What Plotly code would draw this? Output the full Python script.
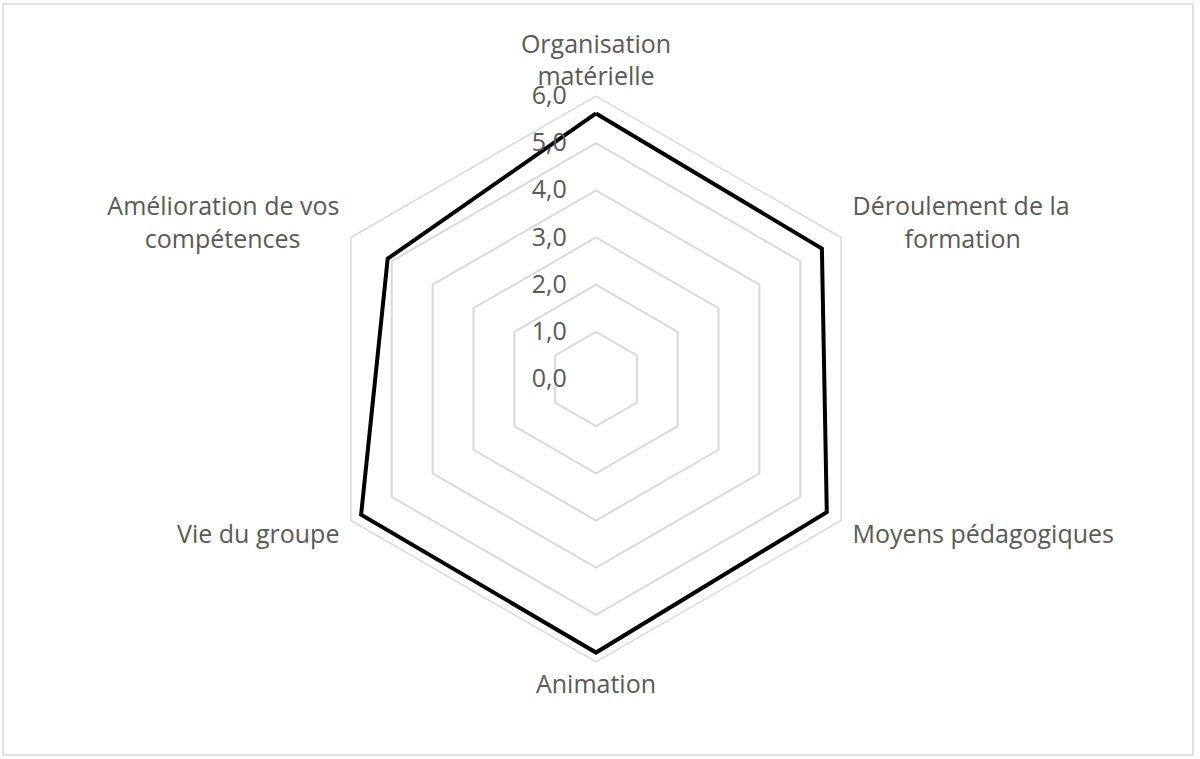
import plotly.graph_objects as go

# Radar chart data
NB = "\u00a0"
categories = [
    "Organisation<br>matérielle",
    NB + "Déroulement de la<br>" + NB * 9 + "formation",
    NB + "Moyens pédagogiques",
    "Animation",
    "Vie du groupe" + NB,
    "Amélioration de vos" + NB + "<br>compétences" + NB * 7,
]
scores = [5.63, 5.53, 5.65, 5.8, 5.75, 5.1]

W, H = 1200, 759
cx, cy, rad = 596, 379, 283

fig = go.Figure()
fig.add_trace(
    go.Scatterpolar(
        r=scores + scores[:1],
        theta=categories + categories[:1],
        mode="lines",
        line=dict(color="black", width=4),
        hoverinfo="skip",
        showlegend=False,
    )
)

fig.update_layout(
    width=W,
    height=H,
    margin=dict(l=0, r=0, t=0, b=0),
    paper_bgcolor="white",
    separators=",.",
    font=dict(family="Open Sans", size=25, color="#595959"),
    polar=dict(
        domain=dict(x=[(cx - rad) / W, (cx + rad) / W],
                    y=[1 - (cy + rad) / H, 1 - (cy - rad) / H]),
        gridshape="linear",
        bgcolor="white",
        radialaxis=dict(
            range=[0, 6],
            dtick=1,
            tick0=0,
            tickformat=".1f",
            angle=90,
            tickangle=90,
            side="counterclockwise",
            showline=False,
            ticks="outside",
            ticklen=20,
            tickcolor="rgba(0,0,0,0)",
            gridcolor="#d9d9d9",
            gridwidth=1.5,
            tickfont=dict(size=25, color="#595959"),
        ),
        angularaxis=dict(
            direction="clockwise",
            rotation=90,
            showgrid=False,
            showline=True,
            linecolor="#d9d9d9",
            linewidth=1.5,
            ticks="",
            tickfont=dict(size=25, color="#595959"),
        ),
    ),
    shapes=[
        dict(type="rect", xref="paper", yref="paper",
             x0=3 / W, x1=1193 / W, y0=1 - 755 / H, y1=1 - 4 / H,
             line=dict(color="#d9d9d9", width=1.5))
    ],
)

fig.write_html("out.html", config={"displayModeBar": False},
               post_script="document.body.style.margin='0px';")
